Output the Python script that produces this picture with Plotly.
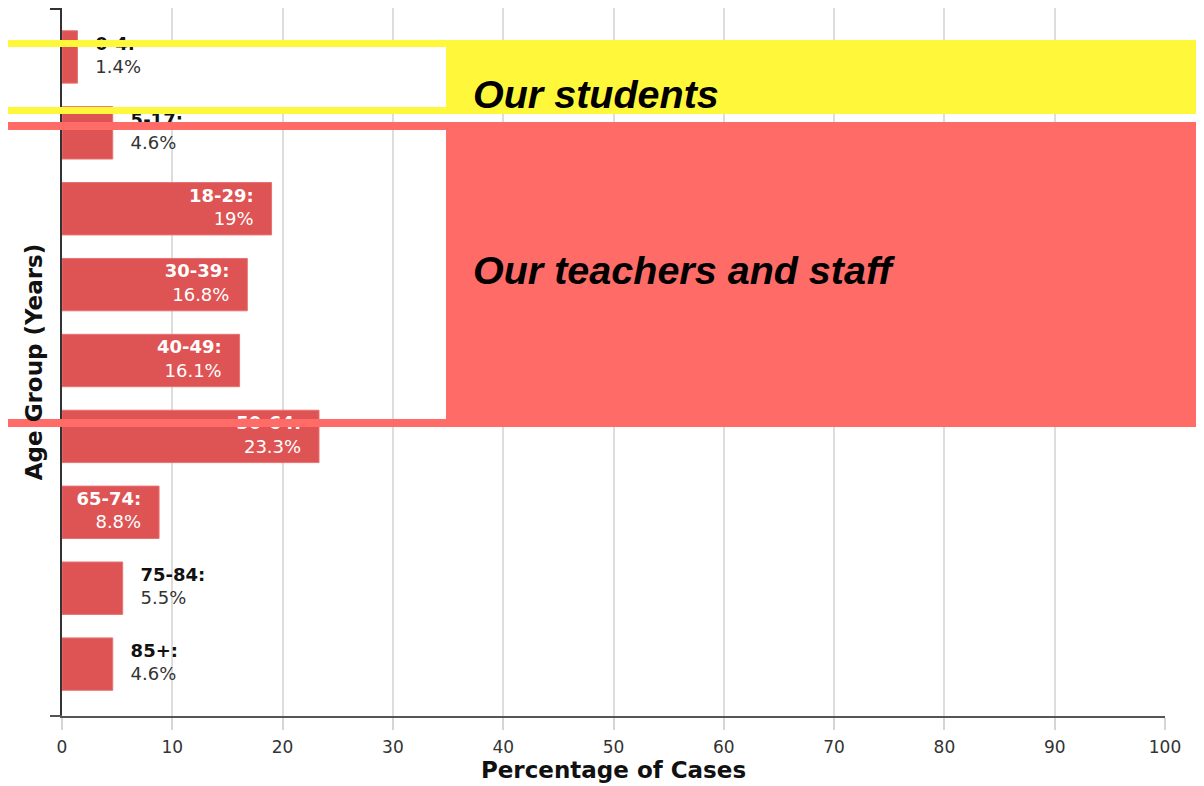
import plotly.graph_objects as go

# ---- data ----
age_groups = ["0-4", "5-17", "18-29", "30-39", "40-49", "50-64", "65-74", "75-84", "85+"]
pct_cases = [1.4, 4.6, 19, 16.8, 16.1, 23.3, 8.8, 5.5, 4.6]
x_ticks = [0, 10, 20, 30, 40, 50, 60, 70, 80, 90, 100]
label_students = "Our students"
label_staff = "Our teachers and staff"

# page body has an 8px margin; work in window pixels
OFF = 8
W, H = 1204 - OFF, 786 - OFF
PL, PR, PT, PB = 62, 1165, 8, 716          # plot area in window pixels
ML, MR, MT, MB = PL - OFF, W - (PR - OFF), PT - OFF, H - (PB - OFF)
PW, PH = PR - PL, PB - PT
YR = [8.684, -0.645]                        # category axis range (reversed)
XR = [0, 100]

def dx(px):  # window pixel x -> x-domain fraction
    return (px - PL) / PW

def dy(py):  # window pixel y -> y-domain fraction
    return (PB - py) / PH

def xd(px):  # window pixel x -> x data
    return XR[0] + (px - PL) / PW * (XR[1] - XR[0])

def yd(py):  # window pixel y -> category index
    return YR[1] + (py - PT) / PH * (YR[0] - YR[1])

BAR = "#DE5353"
RED = "#FF6B67"
YEL = "#FFF83A"
FONT = "DejaVu Sans, Verdana, sans-serif"

fig = go.Figure()
fig.add_trace(go.Bar(
    x=pct_cases, y=age_groups, orientation="h",
    marker=dict(color=BAR, line=dict(color="#E77272", width=1)),
    hoverinfo="skip", width=0.69,
))

inside = [v >= 8 for v in pct_cases]
texts = []
for g, v, ins in zip(age_groups, pct_cases, inside):
    if ins:
        texts.append(f"<b>{g}:</b><br>{v:g}%")
    else:
        texts.append(f"<b>{g}:</b><br><span style='color:#333'>{v:g}%</span>")

fig.add_trace(go.Scatter(
    x=pct_cases, y=age_groups, mode="markers+text",
    marker=dict(size=27, opacity=0),
    text=texts,
    textposition=["middle left" if i else "middle right" for i in inside],
    textfont=dict(family=FONT, size=18, color=["white" if i else "#111" for i in inside]),
    hoverinfo="skip", cliponaxis=False,
))

shapes = []
# white interior of the yellow frame (between grid and traces)
shapes.append(dict(type="rect", xref="x", yref="y", layer="between",
                   x0=xd(PL - 5), x1=xd(446), y0=yd(47), y1=yd(107),
                   fillcolor="white", line=dict(width=0)))
# yellow frame
for (x0, x1, y0, y1) in [(0, 1204, 40, 47), (0, 1204, 107, 114), (446, 1204, 47, 107)]:
    shapes.append(dict(type="rect", xref="x domain", yref="y domain", layer="above",
                       x0=dx(x0), x1=dx(x1), y0=dy(y1), y1=dy(y0),
                       fillcolor=YEL, line=dict(width=0)))
# red frame
for (x0, x1, y0, y1) in [(0, 1204, 122, 130), (0, 1204, 419, 427), (446, 1204, 130, 419)]:
    shapes.append(dict(type="rect", xref="x domain", yref="y domain", layer="above",
                       x0=dx(x0), x1=dx(x1), y0=dy(y1), y1=dy(y0),
                       fillcolor=RED, line=dict(width=0)))
# axis stubs
shapes.append(dict(type="line", xref="x domain", yref="y domain", layer="above",
                   x0=dx(50), x1=dx(PL), y0=dy(PT + 1), y1=dy(PT + 1), line=dict(color="#333", width=2)))
shapes.append(dict(type="line", xref="x domain", yref="y domain", layer="above",
                   x0=dx(50), x1=dx(PL), y0=0, y1=0, line=dict(color="#555", width=2)))

annotations = [
    dict(text=f"<b><i>{label_students}</i></b>", xref="x domain", yref="y domain",
         x=dx(471), y=dy(94), xanchor="left", yanchor="middle", showarrow=False,
         font=dict(family="Liberation Sans, Arial, sans-serif", size=39.5, color="black")),
    dict(text=f"<b><i>{label_staff}</i></b>", xref="x domain", yref="y domain",
         x=dx(471), y=dy(270), xanchor="left", yanchor="middle", showarrow=False,
         font=dict(family="Liberation Sans, Arial, sans-serif", size=39.5, color="black")),
]

fig.update_layout(
    width=W, height=H,
    margin=dict(l=ML, r=MR, t=MT, b=MB, pad=0),
    paper_bgcolor="white", plot_bgcolor="white",
    showlegend=False, bargap=0.31,
    shapes=shapes, annotations=annotations,
    font=dict(family=FONT),
)
fig.update_xaxes(
    range=XR, tickvals=x_ticks, showgrid=True, gridcolor="#DDDDDD", gridwidth=2,
    zeroline=False, ticks="outside", ticklen=12, tickwidth=2, tickcolor="#D5D5D5",
    showline=True, linecolor="#555", linewidth=2,
    tickfont=dict(family=FONT, size=17, color="#333"), ticklabelstandoff=3,
    title=dict(text="<b>Percentage of Cases</b>", font=dict(family=FONT, size=23, color="#111"), standoff=1),
)
fig.update_yaxes(
    type="category", categoryorder="array", categoryarray=age_groups,
    range=YR, showticklabels=False, showgrid=False, zeroline=False,
    showline=True, linecolor="#333", linewidth=2, ticks="",
    title=dict(text="<b>Age Group (Years)</b>", font=dict(family=FONT, size=23, color="#111"), standoff=11),
)

fig.write_html("out.html")
